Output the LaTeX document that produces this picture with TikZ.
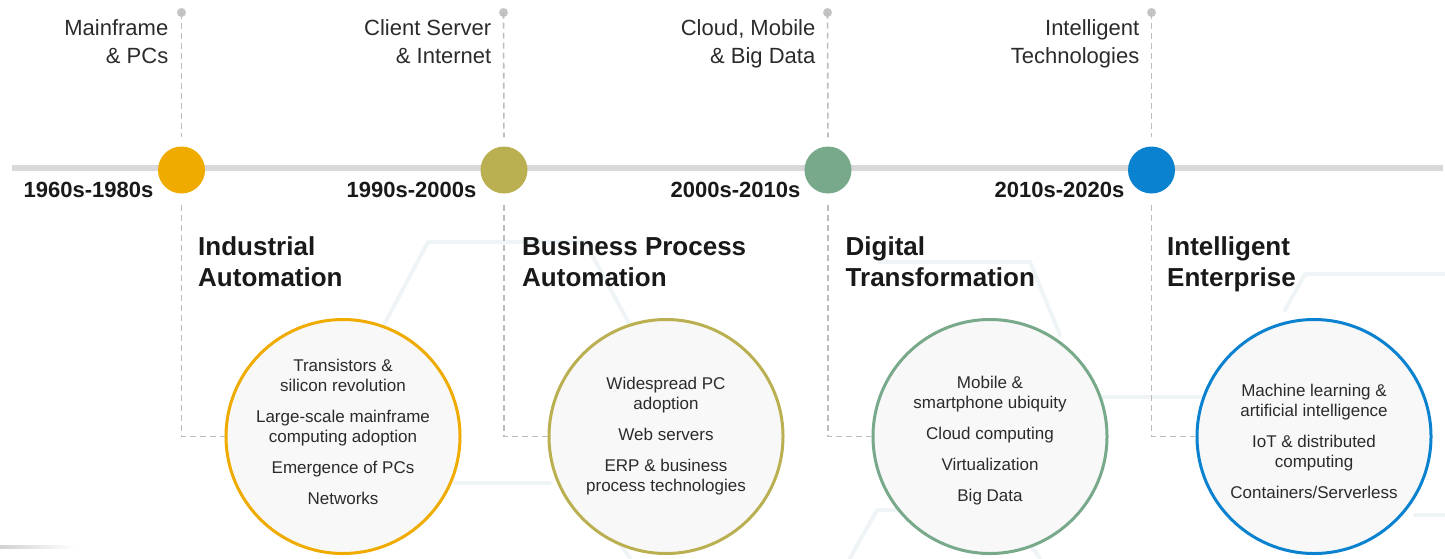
\documentclass[tikz,border=0pt]{standalone}
\usepackage{fontspec}
\setmainfont{Liberation Sans}
\definecolor{cOrange}{HTML}{F0AB00}
\definecolor{cOlive}{HTML}{BAB052}
\definecolor{cGreen}{HTML}{78A98A}
\definecolor{cBlue}{HTML}{0A82CF}
\definecolor{cLine}{HTML}{D9D9D9}
\definecolor{cDash}{HTML}{BDBDBD}
\definecolor{cPin}{HTML}{C4C4C4}
\definecolor{cNet}{HTML}{EFF4F6}
\definecolor{cFill}{HTML}{F8F8F8}
\definecolor{cText}{HTML}{2B2B2B}
\begin{document}
\begin{tikzpicture}[x=1pt,y=-1pt,
  net/.style={cNet, line width=4pt, line join=round, line cap=round},
  dashline/.style={cDash, line width=1.6pt, dash pattern=on 6pt off 4pt},
  pin/.style={circle, fill=cPin, inner sep=0pt, minimum size=9pt},
  bigdot/.style={circle, fill=#1, inner sep=0pt, minimum size=47pt},
  ring/.style={circle, draw=#1, line width=3pt, fill=cFill, inner sep=0pt, minimum size=234pt},
  toplabel/.style={anchor=north east, align=right, inner sep=0pt, text=cText, font=\fontsize{22}{28}\selectfont},
  datelabel/.style={anchor=base east, inner sep=0pt, text=black!90, font=\fontsize{22}{26}\selectfont\bfseries},
  heading/.style={anchor=north west, align=left, inner sep=0pt, text=black!90, font=\fontsize{26}{31}\selectfont\bfseries},
  items/.style={align=center, inner sep=0pt, text=cText, font=\fontsize{17}{20}\selectfont}]
\useasboundingbox (0,0) rectangle (1445,558);

% faint background network
\draw[net] (385,323) -- (428,242) -- (585,242) -- (630,325);
\draw[net] (455,483) -- (550,483);
\draw[net] (880,262) -- (1030,262) -- (1060,335);
\draw[net] (1080,397) -- (1200,397);
\draw[net] (1285,310) -- (1305,274) -- (1445,274);
\draw[net] (850,558) -- (877,510) -- (905,510);
\draw[net] (1415,515) -- (1445,515);
\draw[net] (613,533) -- (630,558);
\draw[net] (1021,533) -- (1040,558);
\shade[left color=black!18, right color=white] (0,545.5) rectangle (75,548.5);

% timeline
\coordinate (tlL) at (12,168);
\coordinate (tlR) at (1443,168);
\draw[cLine, line width=6pt] (tlL) -- (tlR);

% pins and dots
\node[pin] (pin1) at (181.5,12.5) {};
\node[pin] (pin2) at (503.5,12.5) {};
\node[pin] (pin3) at (827.5,12.5) {};
\node[pin] (pin4) at (1151.5,12.5) {};
\node[bigdot=cOrange] (dot1) at (181.5,170) {};
\node[bigdot=cOlive] (dot2) at (504,170) {};
\node[bigdot=cGreen] (dot3) at (828,170) {};
\node[bigdot=cBlue] (dot4) at (1151.5,170) {};

% rings
\node[ring=cOrange] (c1) at (343,436.5) {};
\node[ring=cOlive] (c2) at (666,436.5) {};
\node[ring=cGreen] (c3) at (990,436.5) {};
\node[ring=cBlue] (c4) at (1314,436.5) {};

% dashed connectors
\foreach \i in {1,2,3,4} {
  \draw[dashline, shorten >=9pt] (pin\i.center) -- (dot\i.north);
  \draw[dashline, shorten <=11pt] (dot\i.south) |- (c\i.west);
}

% top labels
\node[toplabel] (lab1) at (168.5,19) {Mainframe\\\& PCs};
\node[toplabel] (lab2) at (491.5,19) {Client Server\\\& Internet};
\node[toplabel] (lab3) at (815.5,19) {Cloud, Mobile\\\& Big Data};
\node[toplabel] (lab4) at (1139.5,19) {Intelligent\\Technologies};

% dates
\node[datelabel] (d1) at (153.5,197) {1960s-1980s};
\node[datelabel] (d2) at (476.5,197) {1990s-2000s};
\node[datelabel] (d3) at (800.5,197) {2000s-2010s};
\node[datelabel] (d4) at (1124.5,197) {2010s-2020s};

% headings
\node[heading] (h1) at (198,236) {Industrial\\Automation};
\node[heading] (h2) at (522,236) {Business Process\\Automation};
\node[heading] (h3) at (845.5,236) {Digital\\Transformation};
\node[heading] (h4) at (1167,236) {Intelligent\\Enterprise};

% circle texts
\node[items] (t1) at (343,432) {Transistors \&\\silicon revolution\\[11pt]Large-scale mainframe\\computing adoption\\[11pt]Emergence of PCs\\[11pt]Networks};
\node[items] (t2) at (666,436.5) {Widespread PC\\adoption\\[11pt]Web servers\\[11pt]ERP \& business\\process technologies};
\node[items] (t3) at (990,441) {Mobile \&\\smartphone ubiquity\\[11pt]Cloud computing\\[11pt]Virtualization\\[11pt]Big Data};
\node[items] (t4) at (1314,441) {Machine learning \&\\artificial intelligence\\[11pt]IoT \& distributed\\computing\\[11pt]Containers/Serverless};
\end{tikzpicture}
\end{document}
